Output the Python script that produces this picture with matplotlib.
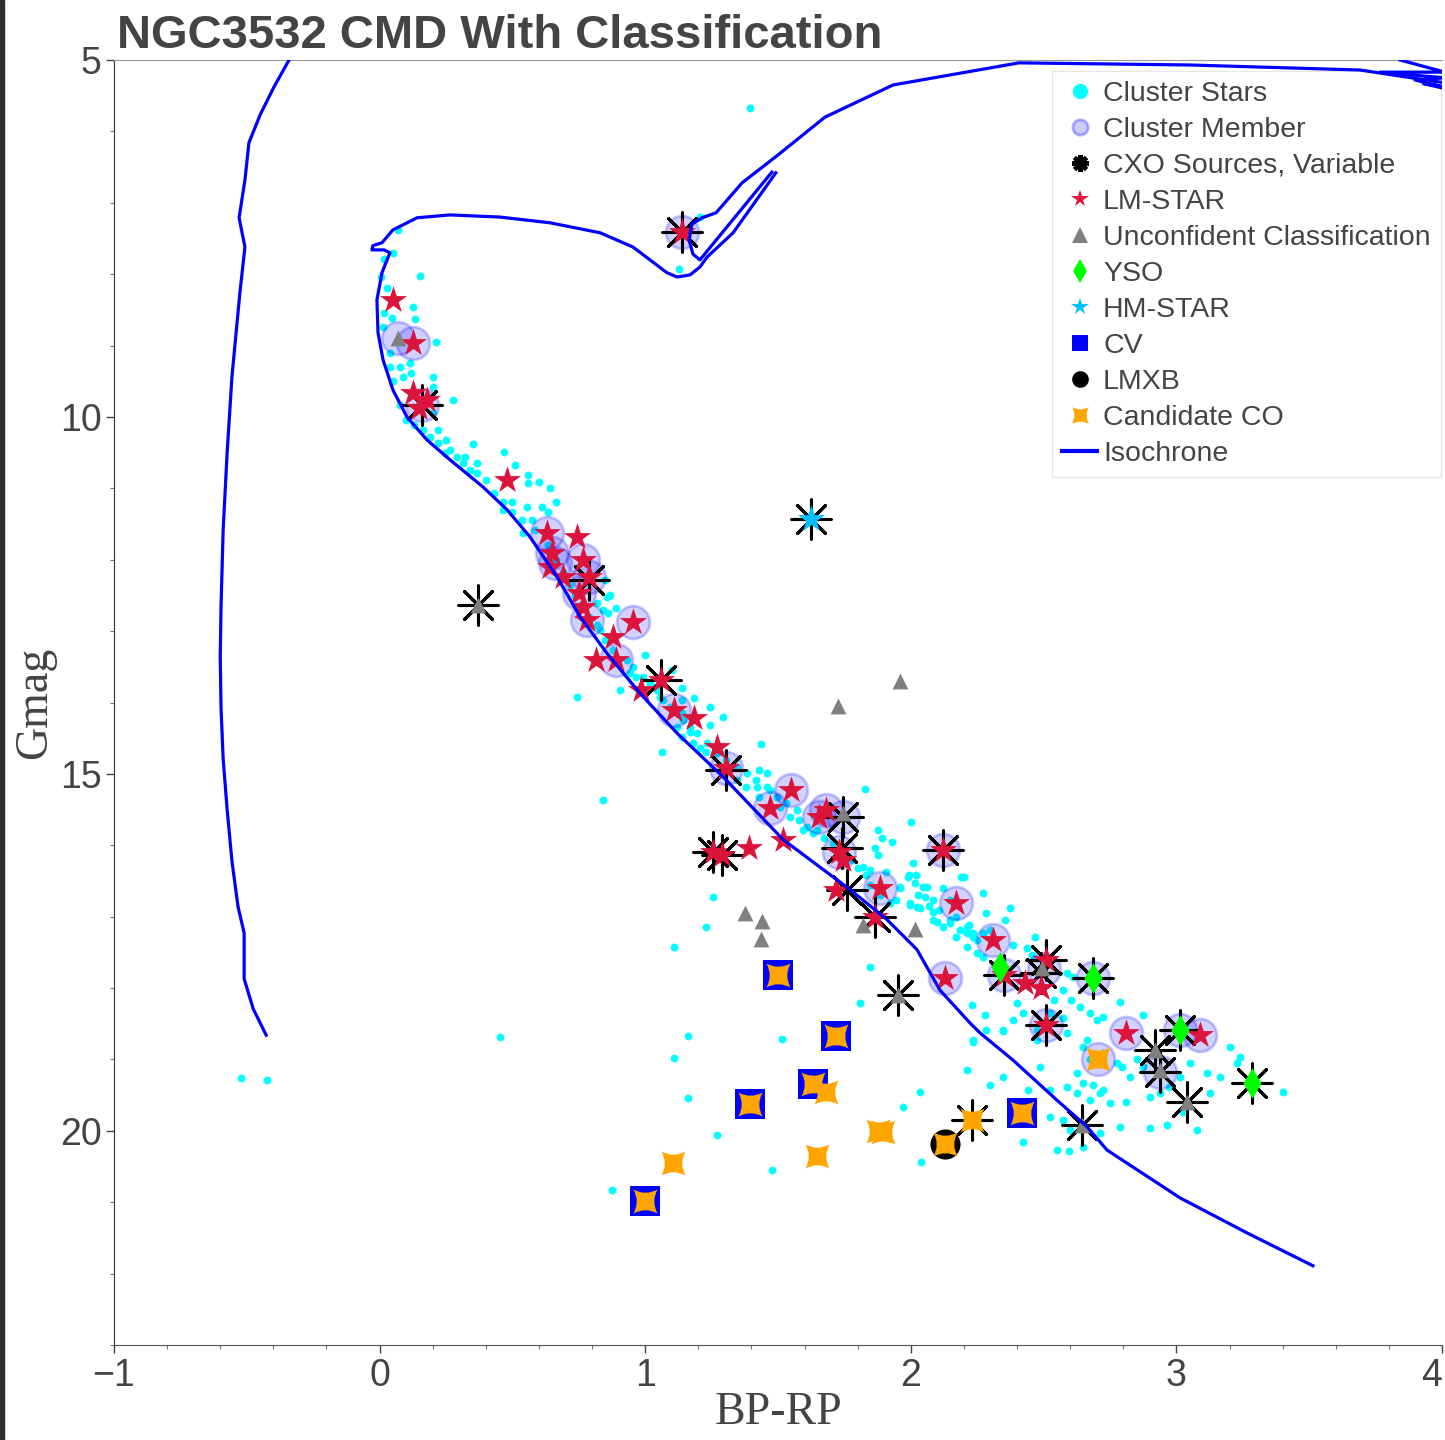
import matplotlib
matplotlib.use('Agg')
import matplotlib.pyplot as plt
from matplotlib.path import Path
from matplotlib.lines import Line2D
from matplotlib.patches import Rectangle
from matplotlib.ticker import MultipleLocator

# ---- cluster stars (BP-RP, Gmag) ----
cluster_x = [1.395, 0.07, 1.206, 1.126, 0.05, 0.017, 0.152, 0.005, 0.028, 0.125, 0.133, 0.017, 0.212, 0.013,
             0.045, 0.04, 0.075, 0.113, 0.04, 0.087, 0.12, 0.05, 0.20, 0.20, 0.276, 0.20, 0.163, 0.19, 0.22,
             0.22, 0.25, 0.264, 0.245, 0.29, 0.32, 0.315, 0.35, 0.365, 0.34, 0.365, 0.47, 0.51, 0.40, 0.43,
             0.465, 0.50, 0.465, 0.50, 0.56, 0.56, 0.60, 0.64, 0.665, 0.555, 0.61, 0.635, 0.535, 0.575, 0.54,
             0.585, 0.89, 0.82, 0.84, 0.855, 0.075, 0.10, 0.13,
             0.633, 0.663, 0.69, 0.715, 0.734, 0.76, 0.79, 0.817, 0.866, 0.847,
             0.745, 0.905, 0.998, 0.86, 0.943, 0.967, 1.055, 1.10, 1.14, 1.185, 1.137, 1.243, 1.292, 1.243,
             1.14, 1.118, 1.167, 1.14, 1.18, 1.205, 1.23, 1.063, 0.84, 1.435, 1.43, 1.457, 1.345, 1.38, 1.42,
             1.43, 1.468, 1.506, 1.544, 1.58, 1.608, 1.63, 1.593, 1.827, 1.875, 1.89, 1.93, 2.00, 1.865, 1.875,
             2.01, 1.99, 2.02, 1.96, 1.945, 1.905, 1.82, 1.845, 2.047, 2.085, 1.997, 2.022, 2.082, 2.097,
             2.146, 2.184, 2.221, 2.21, 2.233, 2.27, 2.20, 2.27, 2.285, 1.255, 1.228, 1.108,
             0.828, 0.847, 0.877, 0.93, 0.953, 0.99, 1.017, 1.043, 1.066, 1.092, 1.118, 1.141, 1.167, 1.194,
             1.231, 1.269, 1.306, 1.344, 1.382, 1.419, 1.457, 1.495, 1.532, 1.57,
             1.645, 1.675, 1.706, 1.777, 1.80, 1.83, 1.845, 1.883, 1.92,
             2.06, 1.995, 2.014, 1.997, 2.035, 2.07, 2.108, 1.958, 2.026, 2.052, 2.082, 2.12, 2.146, 2.12,
             2.146, 2.172, 2.19, 2.372, 2.21, 2.233, 2.248, 2.172, 2.21, 2.297, 2.248, 2.27, 2.353, 2.383,
             2.466, 2.436, 2.455, 2.572, 2.605, 2.587, 2.609, 2.636, 2.673, 2.70, 2.722, 2.786, 2.873, 2.541,
             2.523, 2.398, 2.421, 2.383, 2.346, 2.474, 2.474, 2.572, 2.587, 2.662, 2.647, 2.673, 2.722, 2.775,
             2.797, 2.824, 2.624, 2.647, 2.685, 2.722, 2.85, 2.873, 2.899, 2.937, 2.974, 3.012, 3.05, 3.114,
             3.125, 3.20, 3.238, 3.163, 3.40, 3.076, 2.899, 2.963, 3.023, 2.523, 2.587, 2.624, 2.673, 2.711,
             2.749, 2.812, 2.523, 2.572, 2.598, 2.636, 2.549, 2.647, 2.711, 2.786, 2.421, 2.346, 2.285, 2.233,
             2.21, 2.033, 1.969, 1.845, 1.807, 2.485, 2.44, 3.23,
             1.16, 1.515, 1.108, 1.16, 1.272, 1.478, 0.875, 2.04, 2.234, 2.30, 2.229, 2.278, 2.349, 2.594,
             0.453, -0.52, -0.425]
cluster_y = [5.67, 7.38, 7.20, 7.93, 7.70, 7.79, 8.03, 8.04, 8.19, 8.46, 8.63, 8.54, 8.95, 8.74,
             8.61, 9.10, 9.30, 9.24, 9.30, 9.44, 9.38, 9.50, 9.44, 9.58, 9.76, 9.94, 10.18, 10.28, 10.18,
             10.36, 10.32, 10.46, 10.50, 10.56, 10.56, 10.64, 10.38, 10.64, 10.74, 10.78, 10.49, 10.67, 10.88, 11.06,
             11.19, 11.19, 11.30, 11.33, 10.81, 10.93, 10.91, 11.00, 11.19, 11.26, 11.26, 11.33, 11.44, 11.44, 11.62,
             11.58, 12.68, 12.60, 12.70, 12.52, 9.83, 10.04, 10.11,
             11.79, 12.00, 12.17, 12.35, 12.49, 12.63, 12.80, 12.91, 12.49, 12.28,
             13.92, 13.82, 13.33, 12.75, 13.59, 13.64, 13.92, 13.54, 13.80, 13.94, 13.96, 14.06, 14.20, 14.31,
             14.15, 14.34, 14.41, 14.48, 14.57, 14.64, 14.70, 14.70, 15.36, 14.58, 14.94, 14.99, 15.08, 15.18, 15.18,
             15.32, 15.22, 15.46, 15.60, 15.64, 15.74, 15.83, 15.78, 15.21, 15.78, 15.90, 15.95, 15.67, 16.04, 16.13,
             16.25, 16.44, 16.41, 16.58, 16.76, 16.37, 16.30, 16.35, 16.58, 16.76, 16.81, 16.86, 16.93, 17.07,
             17.04, 17.18, 17.11, 17.23, 17.28, 17.23, 16.44, 16.67, 16.95, 16.72, 17.14, 17.42,
             12.98, 13.12, 13.26, 13.40, 13.50, 13.64, 13.73, 13.82, 13.96, 14.06, 14.15, 14.24, 14.34, 14.43,
             14.57, 14.71, 14.80, 14.90, 14.99, 15.08, 15.18, 15.32, 15.41, 15.50,
             15.78, 15.90, 15.97, 16.20, 16.32, 16.41, 16.55, 16.69, 16.81,
             16.58, 16.41, 16.53, 16.84, 16.88, 16.85, 16.90, 16.60, 16.69, 16.72, 17.04, 17.14, 17.09, 16.60,
             16.76, 17.00, 16.44, 16.88, 17.14, 17.23, 17.32, 17.28, 17.42, 17.18, 17.51, 17.56, 17.04, 17.39,
             17.28, 17.44, 17.53, 18.03, 18.17, 17.79, 17.84, 18.26, 18.35, 18.45, 18.40, 18.19, 18.38, 18.17,
             18.35, 18.21, 18.35, 18.45, 18.59, 18.59, 18.73, 18.42, 18.63, 18.73, 18.82, 19.00, 18.91, 19.05,
             19.10, 19.24, 19.19, 19.33, 19.36, 19.43, 19.00, 19.10, 19.52, 19.47, 19.38, 19.24, 19.05, 19.19,
             19.47, 18.82, 18.96, 19.24, 19.45, 19.99, 19.96, 19.92, 19.73, 19.43, 19.38, 19.47, 19.57, 19.47,
             19.61, 19.59, 19.80, 19.85, 19.99, 19.96, 20.27, 20.22, 20.03, 19.94, 20.15, 19.24, 18.59, 18.73,
             19.15, 19.45, 19.66, 17.70, 18.21, 19.10, 19.43, 19.05,
             18.67, 18.71, 18.98, 19.54, 20.06, 20.55, 20.83, 20.43, 18.75, 19.36, 18.24, 18.38, 18.60, 20.28,
             18.68, 19.26, 19.29]

# ---- classified sources ----
member_x = [0.07, 0.125, 0.16, 0.63, 0.65, 0.66, 0.765, 0.79, 0.75, 0.78, 0.955, 0.89, 1.11, 1.305, 1.47,
            1.55, 1.655, 1.68, 1.745, 1.73, 1.885, 2.12, 2.17, 2.31, 2.13, 2.35, 2.50, 2.51, 2.685, 2.81,
            3.09, 3.015, 2.705, 2.94, 1.14]
member_y = [8.89, 8.96, 9.83, 11.62, 11.90, 12.05, 12.00, 12.24, 12.47, 12.84, 12.87, 13.40, 14.10, 14.92, 15.48,
            15.22, 15.60, 15.50, 15.60, 16.10, 16.60, 16.07, 16.81, 17.33, 17.86, 17.82, 17.73, 18.52, 17.86, 18.63,
            18.66, 18.59, 19.00, 19.17, 7.41]

cxo_x = [1.14, 0.16, 0.37, 0.79, 1.06, 1.305, 1.255, 1.29, 1.745, 1.74, 1.76, 1.865, 2.12, 1.95, 2.35,
         2.51, 2.49, 2.51, 2.685, 2.92, 2.94, 3.04, 3.015, 3.285, 2.645, 2.23, 1.623]
cxo_y = [7.41, 9.83, 12.63, 12.28, 13.68, 14.95, 16.09, 16.13, 15.60, 16.04, 16.62, 17.00, 16.07, 18.10, 17.82,
         17.60, 17.79, 18.52, 17.86, 18.87, 19.17, 19.60, 18.59, 19.33, 19.92, 19.85, 11.43]

lm_x = [0.05, 0.125, 0.125, 0.18, 0.15, 0.48, 0.63, 0.745, 0.65, 0.64, 0.69, 0.765, 0.79, 0.75, 0.765, 0.78,
        0.955, 0.88, 0.815, 0.89, 0.985, 1.06, 1.11, 1.185, 1.27, 1.305, 1.47, 1.55, 1.655, 1.68, 1.52, 1.39,
        1.255, 1.29, 1.73, 1.745, 1.72, 1.885, 1.865, 2.12, 2.17, 2.31, 2.13, 2.35, 2.43, 2.51, 2.49, 2.51,
        2.81, 3.09, 1.14]
lm_y = [8.36, 8.96, 9.66, 9.76, 9.87, 10.88, 11.62, 11.68, 11.90, 12.10, 12.24, 12.00, 12.24, 12.47, 12.66, 12.84,
        12.87, 13.08, 13.40, 13.40, 13.82, 13.68, 14.10, 14.22, 14.62, 14.92, 15.48, 15.22, 15.60, 15.50, 15.92, 16.04,
        16.09, 16.13, 16.10, 16.20, 16.62, 16.60, 17.00, 16.07, 16.81, 17.33, 17.86, 17.82, 17.93, 17.60, 18.00, 18.52,
        18.63, 18.66, 7.41]

unconf_x = [0.07, 0.37, 1.96, 1.725, 1.375, 1.44, 1.435, 1.82, 2.015, 1.745, 1.95, 2.495, 2.92, 2.94, 3.04, 2.645]
unconf_y = [8.89, 12.63, 13.70, 14.05, 16.95, 17.06, 17.31, 17.12, 17.17, 15.55, 18.10, 17.72, 18.87, 19.15, 19.60, 19.92]

yso_x = [2.685, 3.015, 3.285, 2.335]
yso_y = [17.86, 18.59, 19.33, 17.70]

hm_x = [1.623]
hm_y = [11.43]

cv_x = [1.50, 1.72, 1.63, 1.395, 1.00, 2.42]
cv_y = [17.82, 18.67, 19.34, 19.62, 20.98, 19.75]

lmxb_x = [2.13]
lmxb_y = [20.18]

co_x = [1.50, 1.72, 1.63, 1.395, 1.00, 2.42, 2.13, 1.68, 1.105, 1.645, 1.895, 1.875, 2.23, 2.705]
co_y = [17.82, 18.67, 19.34, 19.62, 20.98, 19.75, 20.18, 19.46, 20.45, 20.35, 20.02, 20.00, 19.85, 19.00]

# ---- isochrone pieces ----
iso_ms_x = [3.514, 3.266, 3.014, 2.739, 2.663, 2.550, 2.385, 2.261, 2.223, 2.110, 2.023, 1.910, 1.771, 1.519,
            1.293, 1.120, 0.980, 0.856, 0.755, 0.668, 0.566, 0.480, 0.389, 0.265, 0.178, 0.103, 0.050, 0.013,
            -0.006, -0.010, 0.009, 0.028, 0.039, 0.017, -0.029, -0.025, 0.009, 0.050, 0.141, 0.265, 0.453,
            0.641, 0.830, 0.954, 1.018, 1.082, 1.120, 1.169, 1.206, 1.233, 1.331, 1.492]
iso_ms_y = [21.89, 21.43, 20.94, 20.27, 19.94, 19.57, 19.01, 18.63, 18.49, 18.03, 17.46, 17.04, 16.62, 15.92,
            15.04, 14.43, 13.87, 13.31, 12.80, 12.24, 11.68, 11.30, 10.98, 10.60, 10.32, 10.00, 9.62, 9.20,
            8.82, 8.36, 7.98, 7.80, 7.70, 7.66, 7.66, 7.60, 7.56, 7.38, 7.21, 7.17, 7.20,
            7.28, 7.42, 7.62, 7.80, 7.98, 8.04, 8.01, 7.90, 7.76, 7.42, 6.58]
iso_loop_x = [1.477, 1.206, 1.180, 1.165, 1.176, 1.214, 1.267, 1.365, 1.500, 1.677, 1.933, 2.407, 3.051,
              3.691, 4.011]
iso_loop_y = [6.57, 7.80, 7.72, 7.52, 7.30, 7.21, 7.14, 6.72, 6.33, 5.80, 5.35, 5.04, 5.07, 5.14, 5.32]
iso_tip_x = [3.842, 4.011, 3.766, 4.011, 3.898, 4.011, 3.930, 4.011]
iso_tip_y = [5.00, 5.17, 5.17, 5.25, 5.28, 5.38, 5.33, 5.40]
iso_wd_x = [-0.341, -0.398, -0.450, -0.492, -0.507, -0.529, -0.507, -0.526, -0.556, -0.574, -0.589, -0.597,
            -0.600, -0.597, -0.589, -0.574, -0.556, -0.533, -0.510, -0.510, -0.476, -0.427]
iso_wd_y = [5.00, 5.38, 5.77, 6.16, 6.68, 7.21, 7.62, 8.26, 9.44, 10.50, 11.58, 12.65, 13.36, 14.08, 14.79,
            15.50, 16.22, 16.86, 17.23, 17.87, 18.29, 18.66]

# concave square marker for candidate compact objects
co_marker = Path([(-1, -1), (0, -0.45), (1, -1), (0.45, 0), (1, 1), (0, 0.45), (-1, 1), (-0.45, 0), (-1, -1), (-1, -1)],
                 [Path.MOVETO, Path.CURVE3, Path.CURVE3, Path.CURVE3, Path.CURVE3, Path.CURVE3, Path.CURVE3,
                  Path.CURVE3, Path.CURVE3, Path.CLOSEPOLY])
asterisk = (8, 2, 0)

TXT = '#444444'
fig = plt.figure(figsize=(14.45, 14.4), dpi=100)
fig.patches.append(Rectangle((0, 0), 4 / 1445, 1, transform=fig.transFigure, color='#2e2e2e'))
ax = fig.add_axes([114 / 1445, 1 - 1345 / 1440, (1442 - 114) / 1445, (1345 - 60) / 1440])

ax.scatter(cluster_x, cluster_y, s=32, color='#00ffff', linewidths=0, zorder=2)
ax.scatter(member_x, member_y, s=560, facecolor=(0, 0, 1, 0.18), edgecolor=(0, 0, 1, 0.22), linewidths=2, zorder=3)
ax.scatter(cxo_x, cxo_y, s=800, marker=asterisk, color='black', linewidths=2.2, zorder=4)
ax.scatter(lm_x, lm_y, s=420, marker='*', color='#dc143c', linewidths=0, zorder=5)
ax.scatter(unconf_x, unconf_y, s=130, marker='^', color='#808080', linewidths=0, zorder=6)
ax.scatter(yso_x, yso_y, s=240, marker='d', color='#00ff00', linewidths=0, zorder=7)
ax.scatter(hm_x, hm_y, s=420, marker='*', color='#00bfff', linewidths=0, zorder=8)
ax.scatter(cv_x, cv_y, s=470, marker='s', color='#0000ff', linewidths=0, zorder=9)
ax.scatter(lmxb_x, lmxb_y, s=470, marker='o', color='black', linewidths=0, zorder=10)
ax.scatter(co_x, co_y, s=300, marker=co_marker, color='#ffa500', linewidths=0, zorder=11)
for xs, ys in [(iso_ms_x, iso_ms_y), (iso_loop_x, iso_loop_y), (iso_tip_x, iso_tip_y), (iso_wd_x, iso_wd_y)]:
    ax.plot(xs, ys, color='#0000ff', lw=2.3, solid_joinstyle='round', zorder=12)

ax.set_xlim(-1, 4)
ax.set_ylim(23, 5)
ax.set_xticks([-1, 0, 1, 2, 3, 4])
ax.set_yticks([5, 10, 15, 20])
ax.xaxis.set_minor_locator(MultipleLocator(0.2))
ax.yaxis.set_minor_locator(MultipleLocator(1))
ax.tick_params(which='major', direction='out', length=6, width=1, color=TXT, labelcolor=TXT,
               labelsize=27, pad=3)
ax.tick_params(which='minor', direction='out', length=3, width=0.8, color='#777777')
ax.set_xticklabels(['\u22121', '0', '1', '2', '3', '4'])
for lab in ax.get_xticklabels() + ax.get_yticklabels():
    lab.set_family('Liberation Sans')
ax.get_xticklabels()[-1].set_horizontalalignment('right')
ax.spines['right'].set_visible(False)
ax.spines['top'].set_color('#999999')
ax.spines['left'].set_color('#333333')
ax.spines['bottom'].set_color('#555555')

ax.set_xlabel('BP-RP', family='Liberation Serif', fontsize=33, color=TXT, va='center')
ax.xaxis.set_label_coords(0.5, -0.053)
ax.set_ylabel('Gmag', family='Liberation Serif', fontsize=33, color=TXT, va='center')
ax.yaxis.set_label_coords(-0.0595, 0.5)

fig.text(117 / 1445, 1 - 48 / 1440, 'NGC3532 CMD With Classification', family='Liberation Sans',
         fontsize=34, fontweight='bold', color=TXT, va='baseline')

handles = [
    Line2D([], [], ls='none', marker='o', ms=11, color='#00ffff', mew=0),
    Line2D([], [], ls='none', marker='o', ms=11, mfc=(0, 0, 1, 0.2), mec=(0, 0, 1, 0.3), mew=2),
    Line2D([], [], ls='none', marker=asterisk, ms=12, color='black', mew=3),
    Line2D([], [], ls='none', marker='*', ms=13, color='#dc143c', mew=0),
    Line2D([], [], ls='none', marker='^', ms=12, color='#808080', mew=0),
    Line2D([], [], ls='none', marker='d', ms=12, color='#00ff00', mew=0),
    Line2D([], [], ls='none', marker='*', ms=13, color='#00bfff', mew=0),
    Line2D([], [], ls='none', marker='s', ms=11, color='#0000ff', mew=0),
    Line2D([], [], ls='none', marker='o', ms=12, color='black', mew=0),
    Line2D([], [], ls='none', marker=co_marker, ms=12, color='#ffa500', mew=0),
    Line2D([], [], color='#0000ff', lw=3),
]
labels = ['Cluster Stars', 'Cluster Member', 'CXO Sources, Variable', 'LM-STAR', 'Unconfident Classification',
          'YSO', 'HM-STAR', 'CV', 'LMXB', 'Candidate CO', 'Isochrone']
leg = ax.legend(handles, labels, loc='upper right', bbox_to_anchor=(0.999, 0.9915), borderaxespad=0,
                prop={'family': 'Liberation Sans', 'size': 20.5}, labelcolor=TXT, frameon=True,
                fancybox=False, edgecolor='#e6e6e6', framealpha=1, handlelength=1.25, handletextpad=0.2,
                labelspacing=0.35, borderpad=0.35)
leg.get_frame().set_linewidth(1)
leg.set_zorder(11.5)

fig.savefig('out.png', dpi=100)
